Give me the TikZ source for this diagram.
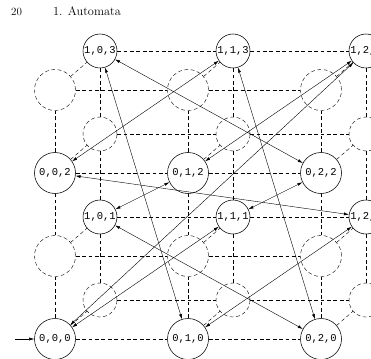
\documentclass[tikz,border=0pt]{standalone}
\usepackage{fontspec}
\newfontfamily\statefont{Liberation Mono}
\usetikzlibrary{arrows.meta}

\begin{document}
\begin{tikzpicture}[x=1pt,y=-1pt,
  lattice/.style={dash pattern=on 3.8pt off 2.6pt, line width=0.4pt},
  reach/.style={circle, draw, line width=0.55pt, inner sep=0pt,
                font=\statefont\fontsize{10.5}{12}\selectfont},
  ghost/.style={circle, draw, lattice, inner sep=0pt},
  trans/.style={{Latex[length=5pt,width=3pt]}-{Latex[length=5pt,width=3pt]}, line width=0.4pt},
  runhead/.style={anchor=base west, inner sep=0pt},
]
\useasboundingbox (0,0) rectangle (371,358);
\clip (0,0) rectangle (371,358);

% running head
\node[runhead, font=\fontsize{11}{13}\selectfont] (pagenum) at (11,15.5) {20};
\node[runhead, font=\fontsize{12.3}{14}\selectfont] (chapter) at (53,15.5) {1. Automata};

% states (i,j,k); reachable ones have i = k mod 2
\foreach \i in {0,1} {
  \foreach \j in {0,1,2} {
    \foreach \k in {0,...,3} {
      \pgfmathtruncatemacro\odd{mod(\i+\k,2)}
      \pgfmathsetmacro\diam{41-7*\i}
      \ifnum\odd=0
        \node[reach, minimum size=\diam pt] (n\i\j\k)
          at (55+45*\i+133*\j, 339-39*\i-83*\k) {\i,\j,\k};
      \else
        \node[ghost, minimum size=\diam pt] (n\i\j\k)
          at (55+45*\i+133*\j, 339-39*\i-83*\k) {};
      \fi
    }
  }
}

% lattice edges along k
\foreach \i in {0,1} \foreach \j in {0,1,2} \foreach \k in {0,1,2} {
  \pgfmathtruncatemacro\kk{\k+1}
  \draw[lattice] (n\i\j\k) -- (n\i\j\kk);
}
% lattice edges along j
\foreach \i in {0,1} \foreach \j in {0,1} \foreach \k in {0,...,3} {
  \pgfmathtruncatemacro\jj{\j+1}
  \draw[lattice] (n\i\j\k) -- (n\i\jj\k);
}
% lattice edges along i
\foreach \j in {0,1,2} \foreach \k in {0,...,3} {
  \draw[lattice] (n0\j\k) -- (n1\j\k);
}

% transitions: the cycle n -> n+1 taken mod 2, 3 and 4
\foreach \n in {0,...,11} {
  \pgfmathtruncatemacro\a{mod(\n,2)}
  \pgfmathtruncatemacro\b{mod(\n,3)}
  \pgfmathtruncatemacro\c{mod(\n,4)}
  \pgfmathtruncatemacro\d{mod(\n+1,2)}
  \pgfmathtruncatemacro\e{mod(\n+1,3)}
  \pgfmathtruncatemacro\f{mod(\n+1,4)}
  \draw[trans] (n\a\b\c) -- (n\d\e\f);
}

% initial state
\coordinate (start) at (15,339);
\draw[-{Latex[length=5pt,width=3pt]}, line width=0.4pt] (start) -- (n000);
\end{tikzpicture}
\end{document}
